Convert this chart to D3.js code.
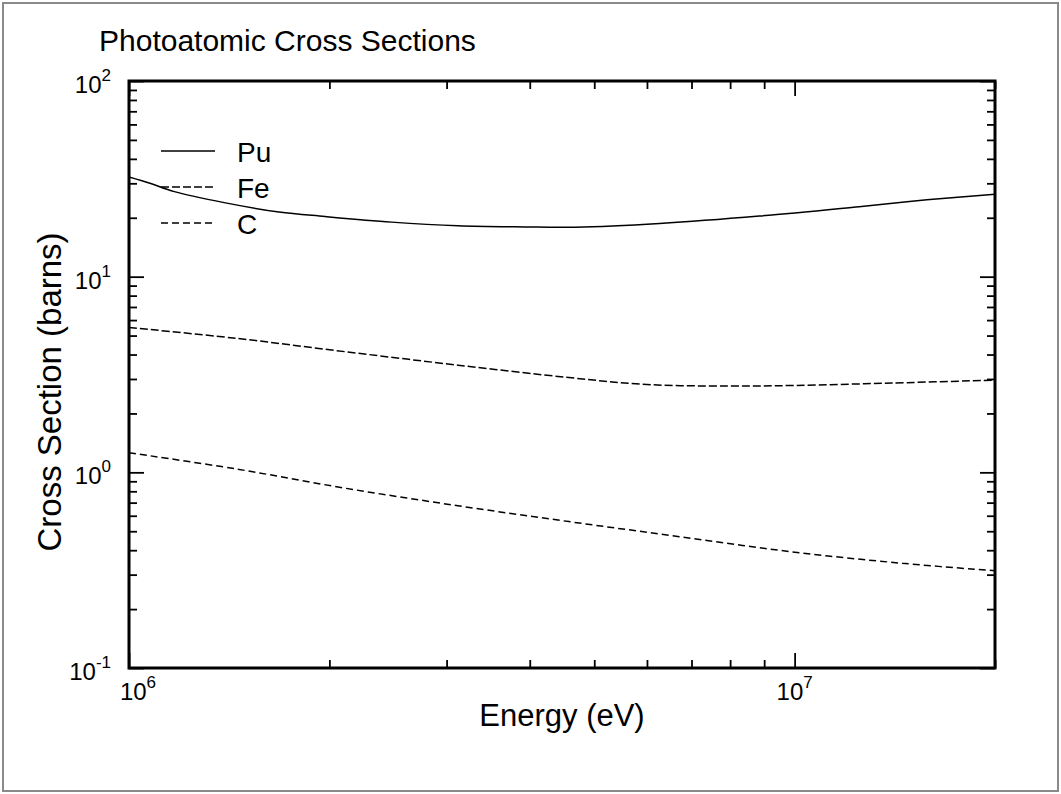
<!DOCTYPE html>
<html>
<head>
<meta charset="utf-8">
<script src="https://cdn.jsdelivr.net/npm/d3@7"></script>
<style>
  body { margin: 0; background: #fff; }
  text { font-family: "Liberation Sans", Arial, sans-serif; fill: #000; }
</style>
</head>
<body>
<div id="chart"></div>
<script>
// Values
const puEnergy = [1.0e6, 1.075e6, 1.17e6, 1.39e6, 1.68e6, 1.97e6, 2.48e6, 3.12e6, 3.93e6, 4.68e6, 6.27e6, 8.85e6, 1.25e7, 1.58e7, 2.0e7];
const puSigma  = [32.3, 30.0, 27.2, 23.9, 21.4, 20.3, 19.0, 18.2, 17.95, 17.9, 18.7, 20.4, 22.8, 24.7, 26.4];

const feEnergy = [1.0e6, 1.45e6, 2.12e6, 3.12e6, 4.58e6, 6.0e6, 8.0e6, 1.0e7, 1.4e7, 2.0e7];
const feSigma  = [5.5, 4.84, 4.13, 3.53, 3.05, 2.81, 2.76, 2.78, 2.86, 2.96];

const cEnergy = [1.0e6, 1.45e6, 2.12e6, 3.12e6, 4.58e6, 6.71e6, 9.86e6, 1.45e7, 2.0e7];
const cSigma  = [1.26, 1.04, 0.828, 0.675, 0.560, 0.469, 0.393, 0.343, 0.314];

const seriesNames = ["Pu", "Fe", "C"];
const xMajorTicks = [1e6, 1e7];
const xTickLabels = ["6", "7"];
const yMajorTicks = [0.1, 1, 10, 100];
const yTickLabels = ["-1", "0", "1", "2"];

const W = 1061, H = 794;
const margin = { top: 81, right: 66, bottom: 126, left: 129 };

const svg = d3.select("#chart").append("svg")
    .attr("width", W)
    .attr("height", H);

// outer grey frame
svg.append("rect")
    .attr("x", 3).attr("y", 3)
    .attr("width", W - 6).attr("height", H - 6)
    .attr("fill", "none")
    .attr("stroke", "#8a8a8a")
    .attr("stroke-width", 2);

const x = d3.scaleLog().domain([1e6, 2e7]).range([margin.left, W - margin.right]);
const y = d3.scaleLog().domain([0.1, 100]).range([H - margin.bottom, margin.top]);

const x0 = x.range()[0], x1 = x.range()[1];
const y0 = y.range()[0], y1 = y.range()[1];

// ticks, all pointing inward
const xMinor = x.ticks().filter(v => !xMajorTicks.includes(v));
const yMinor = y.ticks().filter(v => !yMajorTicks.some(m => Math.abs(m - v) < 1e-9));

function tickAxis(axis, vals, size, transform) {
    const g = svg.append("g")
        .attr("transform", transform)
        .call(axis.tickValues(vals).tickSize(-size).tickFormat(""));
    g.select(".domain").remove();
    g.selectAll(".tick line").attr("stroke", "#000").attr("stroke-width", 1.8);
}

tickAxis(d3.axisBottom(x), xMinor, 8, `translate(0,${y0})`);
tickAxis(d3.axisBottom(x), xMajorTicks, 15, `translate(0,${y0})`);
tickAxis(d3.axisTop(x), xMinor, 8, `translate(0,${y1})`);
tickAxis(d3.axisTop(x), xMajorTicks, 15, `translate(0,${y1})`);
tickAxis(d3.axisLeft(y), yMinor, 8, `translate(${x0},0)`);
tickAxis(d3.axisLeft(y), yMajorTicks, 15, `translate(${x0},0)`);
tickAxis(d3.axisRight(y), yMinor, 8, `translate(${x1},0)`);
tickAxis(d3.axisRight(y), yMajorTicks, 15, `translate(${x1},0)`);

// curves
const line = d3.line()
    .x(d => x(d[0]))
    .y(d => y(d[1]))
    .curve(d3.curveCatmullRom.alpha(0.5));

const dashes = { Pu: null, Fe: "8,3", C: "7,4" };
const curves = [
    { name: "Pu", pts: d3.zip(puEnergy, puSigma) },
    { name: "Fe", pts: d3.zip(feEnergy, feSigma) },
    { name: "C", pts: d3.zip(cEnergy, cSigma) }
];

svg.append("defs").append("clipPath").attr("id", "plotclip")
    .append("rect")
    .attr("x", x0).attr("y", y1)
    .attr("width", x1 - x0).attr("height", y0 - y1);

svg.append("g").attr("clip-path", "url(#plotclip)")
    .selectAll("path")
    .data(curves)
    .enter()
    .append("path")
    .attr("d", d => line(d.pts))
    .attr("fill", "none")
    .attr("stroke", "#000")
    .attr("stroke-width", 1.5)
    .attr("stroke-dasharray", d => dashes[d.name]);

// plot frame
svg.append("rect")
    .attr("x", x0).attr("y", y1)
    .attr("width", x1 - x0).attr("height", y0 - y1)
    .attr("fill", "none")
    .attr("stroke", "#000")
    .attr("stroke-width", 3);

// tick labels, 10 with superscript exponent
function powLabel(sel) {
    sel.append("tspan").attr("font-size", 24).text("10");
    sel.append("tspan").attr("font-size", 17).attr("dy", -12).text((d, i) => d.label);
}

svg.selectAll(".xlab")
    .data(xMajorTicks.map((v, i) => ({ v, label: xTickLabels[i] })))
    .enter()
    .append("text")
    .attr("class", "xlab")
    .attr("x", (d, i) => x(d.v) + (i === 0 ? 9 : 0))
    .attr("y", y0 + 32)
    .attr("text-anchor", "middle")
    .call(powLabel);

svg.selectAll(".ylab")
    .data(yMajorTicks.map((v, i) => ({ v, label: yTickLabels[i] })))
    .enter()
    .append("text")
    .attr("class", "ylab")
    .attr("x", x0 - 18)
    .attr("y", d => y(d.v) + 12)
    .attr("text-anchor", "end")
    .call(powLabel);

// titles
svg.append("text")
    .attr("x", 99).attr("y", 51)
    .attr("font-size", 30)
    .text("Photoatomic Cross Sections");

svg.append("text")
    .attr("x", (x0 + x1) / 2).attr("y", 726)
    .attr("text-anchor", "middle")
    .attr("font-size", 31)
    .text("Energy (eV)");

svg.append("text")
    .attr("transform", `translate(61,392) rotate(-90)`)
    .attr("text-anchor", "middle")
    .attr("font-size", 33)
    .text("Cross Section (barns)");

// legend
const legend = svg.append("g").selectAll("g")
    .data(seriesNames)
    .enter()
    .append("g")
    .attr("transform", (d, i) => `translate(161,${151 + i * 36})`);

legend.append("line")
    .attr("x1", 0).attr("x2", 54)
    .attr("stroke", "#000")
    .attr("stroke-width", 1.5)
    .attr("stroke-dasharray", d => dashes[d]);

legend.append("text")
    .attr("x", 76).attr("y", 11)
    .attr("font-size", 28)
    .text(d => d);
</script>
</body>
</html>
